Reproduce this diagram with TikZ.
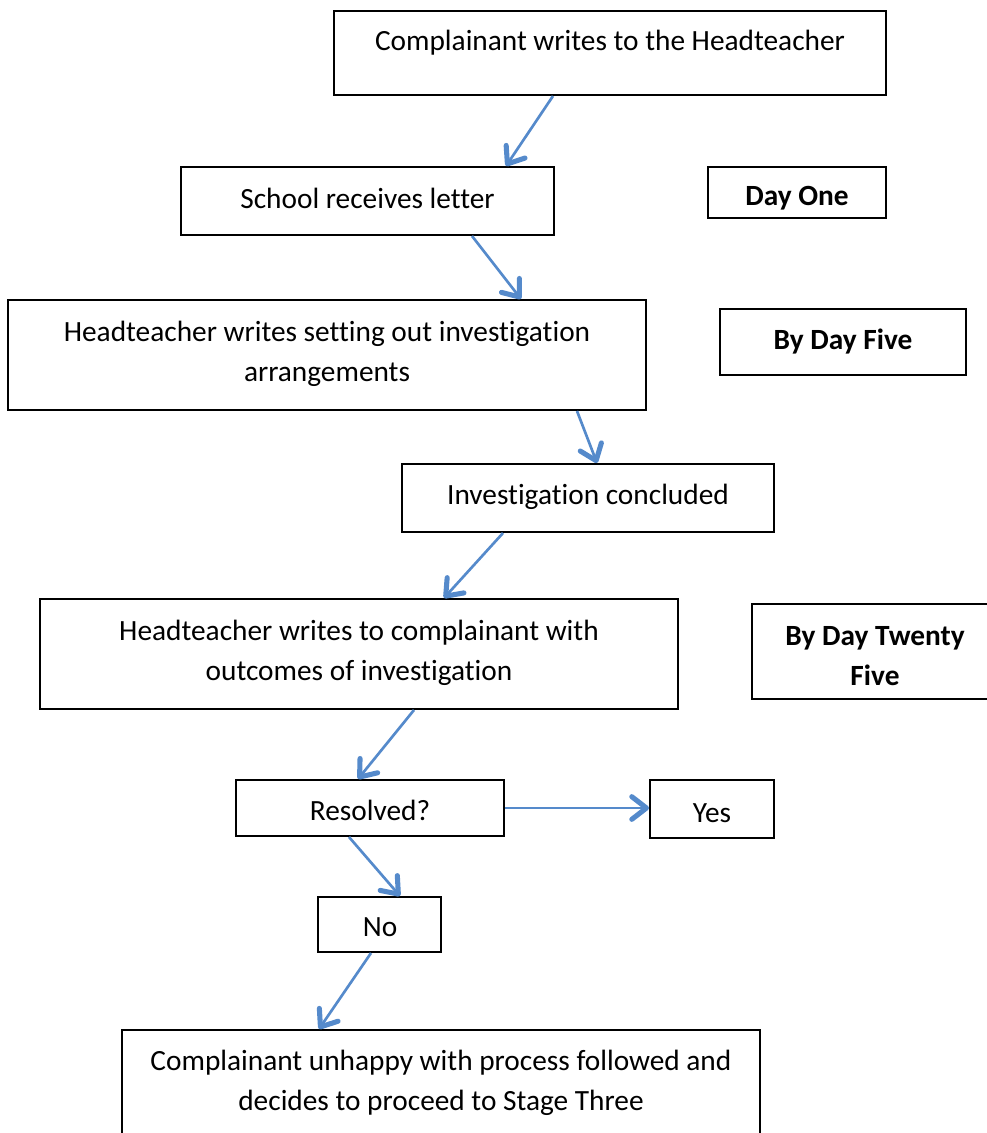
\documentclass[tikz,border=0pt]{standalone}
\usepackage{fontspec}
\setmainfont[Ligatures=NoCommon]{Carlito}
\usetikzlibrary{arrows.meta,calc}
\definecolor{arrowblue}{HTML}{558ACB}
\begin{document}
\begin{tikzpicture}[x=0.75pt,y=-0.75pt,
  box/.style={draw=black,line width=1.5pt,rectangle,inner sep=0pt},
  txt/.style={align=center,font=\fontsize{22}{30}\selectfont,inner sep=0pt},
  btxt/.style={align=center,font=\fontsize{22}{30}\selectfont\bfseries,inner sep=0pt},
  flow/.style={draw=arrowblue,line width=2pt,-{Straight Barb[length=11pt,width=17pt,line width=3.8pt,round]}}]
\useasboundingbox (0,0) rectangle (987,1133);
% boxes
\node[box,minimum width=552*0.75pt,minimum height=84*0.75pt] (b1) at (610,53) {};
\node[box,minimum width=373*0.75pt,minimum height=68*0.75pt] (b2) at (367.5,201) {};
\node[box,minimum width=178*0.75pt,minimum height=51*0.75pt] (d1) at (797,192.5) {};
\node[box,minimum width=638*0.75pt,minimum height=110*0.75pt] (b3) at (327,355) {};
\node[box,minimum width=246*0.75pt,minimum height=66*0.75pt] (d5) at (843,342) {};
\node[box,minimum width=372*0.75pt,minimum height=68*0.75pt] (b4) at (588,498) {};
\node[box,minimum width=638*0.75pt,minimum height=110*0.75pt] (b5) at (359,654) {};
\node[box,minimum width=246*0.75pt,minimum height=95*0.75pt] (d25) at (875,651.5) {};
\node[box,minimum width=268*0.75pt,minimum height=56*0.75pt] (res) at (370,808) {};
\node[box,minimum width=124*0.75pt,minimum height=58*0.75pt] (yes) at (712,809) {};
\node[box,minimum width=123*0.75pt,minimum height=55*0.75pt] (no) at (379.5,924.5) {};
\node[box,minimum width=638*0.75pt,minimum height=115*0.75pt] (b6) at (441,1087.5) {};
% texts
\node[txt] (t1) at (610,43) {Complainant writes to the Headteacher};
\node[txt] (t2) at (367.5,198) {School receives letter};
\node[btxt] (td1) at (797,198) {Day One};
\node[txt] (t3) at (327,354) {Headteacher writes setting out investigation\\arrangements};
\node[btxt] (td5) at (843,342) {By Day Five};
\node[txt] (t4) at (588,497) {Investigation concluded};
\node[txt] (t5) at (359,653) {Headteacher writes to complainant with\\outcomes of investigation};
\node[btxt] (td25) at (875,656) {By Day Twenty\\Five};
\node[txt] (tres) at (370,810) {Resolved?};
\node[txt] (tyes) at (712,813) {Yes};
\node[txt] (tno) at (380,927) {No};
\node[txt] (t6) at (441,1083) {Complainant unhappy with process followed and\\decides to proceed to Stage Three};
% connectors
\draw[flow] ($(b1.south)+(-57,0)$) -- ($(b2.north)+(138.5,0)$);
\draw[flow] ($(b2.south)+(104.5,0)$) -- ($(b3.north)+(194,0)$);
\draw[flow] ($(b3.south)+(250,0)$) -- ($(b4.north)+(9,0)$);
\draw[flow] ($(b4.south)+(-85,0)$) -- ($(b5.north)+(85,0)$);
\draw[flow] ($(b5.south)+(55,0)$) -- ($(res.north)+(-12,0)$);
\draw[flow] (res.east) -- (res.east -| yes.west);
\draw[flow] ($(res.south)+(-21,0)$) -- ($(no.north)+(20.5,0)$);
\draw[flow] ($(no.south)+(-8.5,0)$) -- ($(b6.north)+(-122,0)$);
\end{tikzpicture}
\end{document}
